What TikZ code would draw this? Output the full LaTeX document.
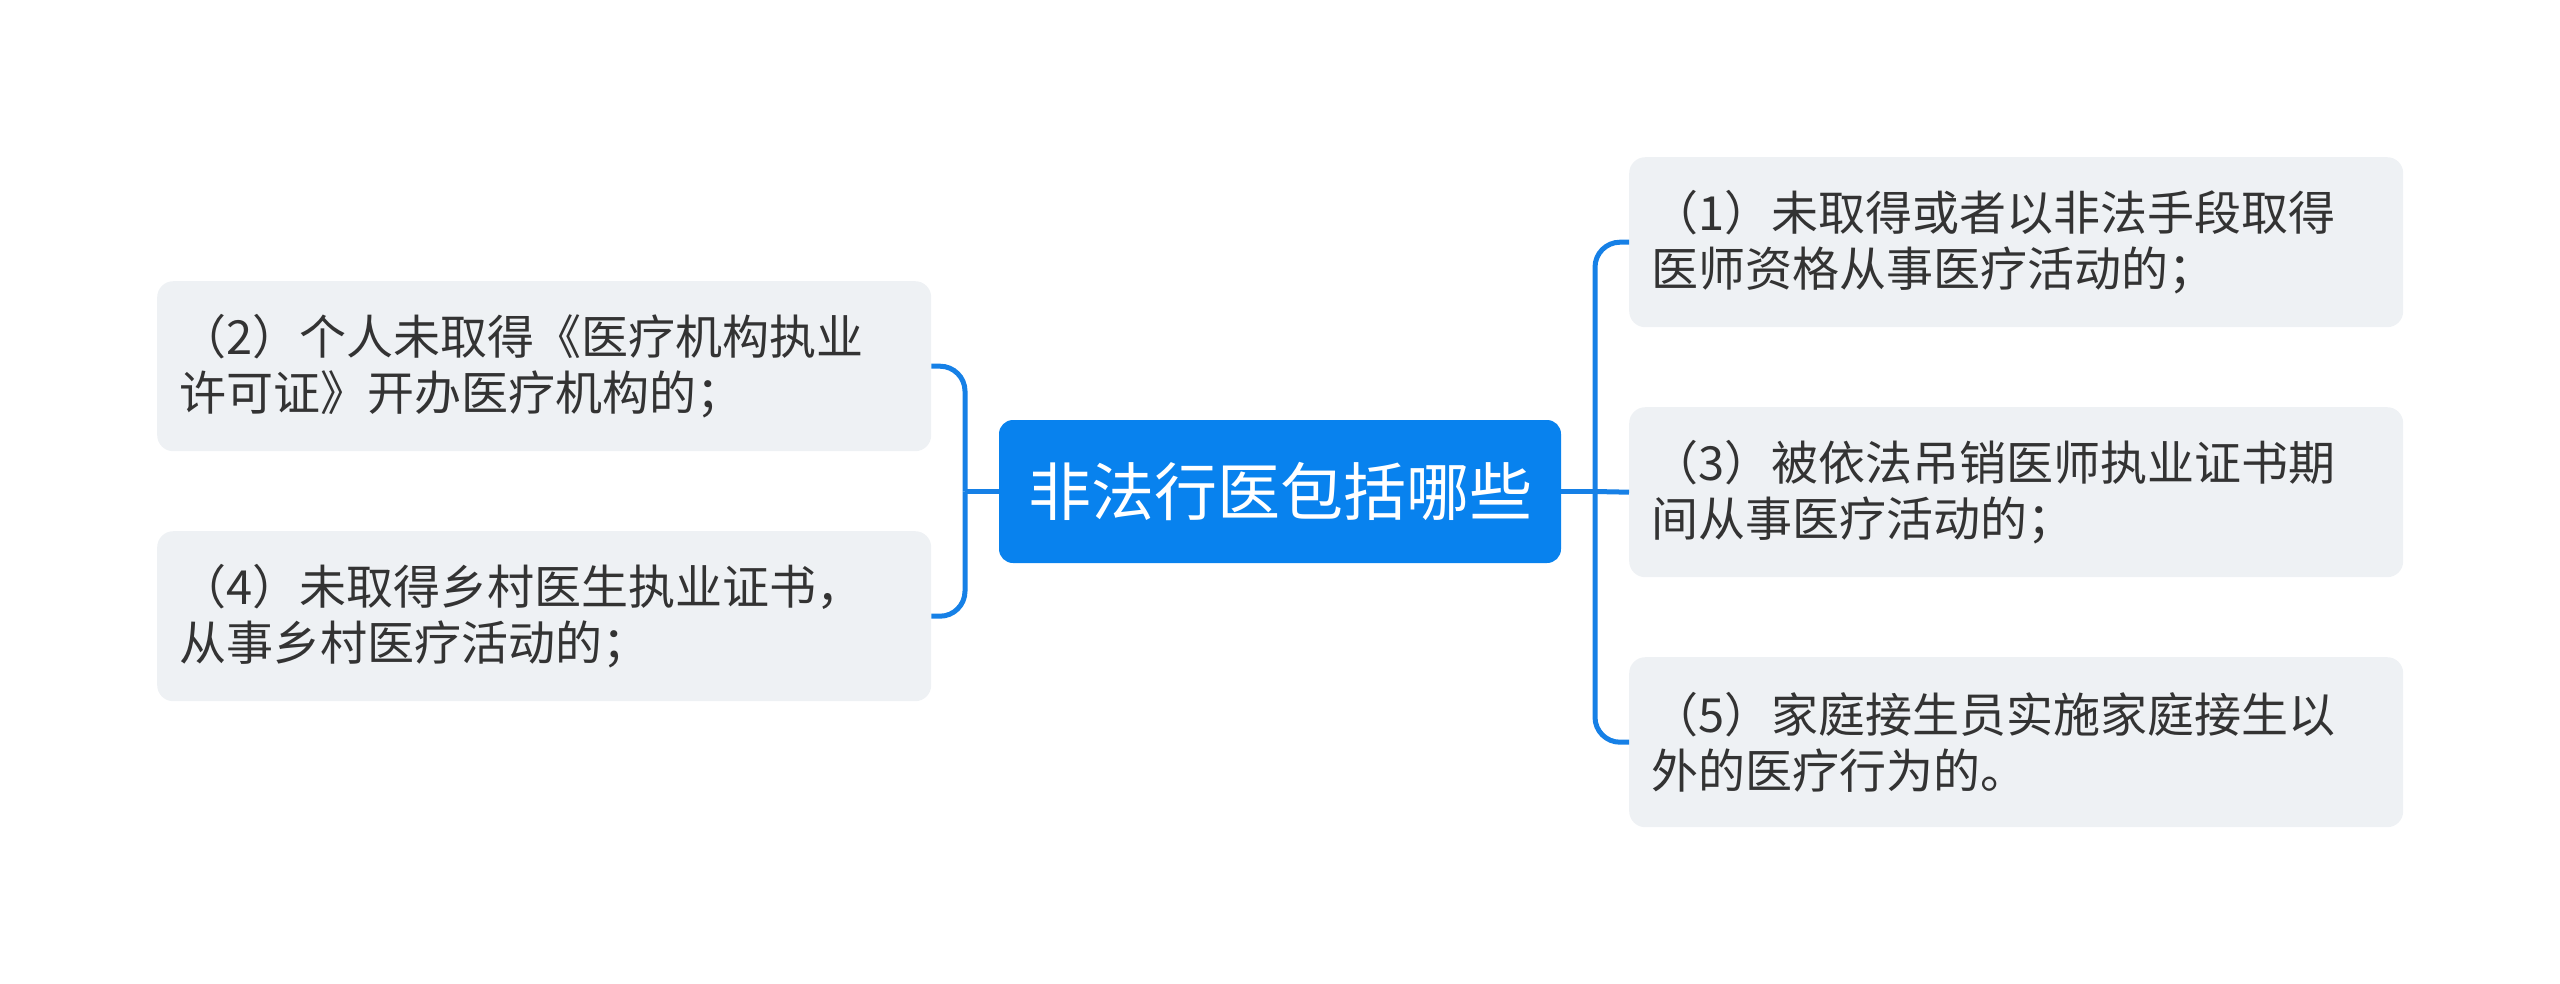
\documentclass[tikz,border=0pt]{standalone}
\usepackage{fontspec}
\newfontfamily\cjk{Noto Sans CJK SC}
\definecolor{mainblue}{RGB}{8,130,238}
\definecolor{linkblue}{RGB}{22,128,230}
\definecolor{boxgray}{RGB}{238,241,244}
\definecolor{txt}{RGB}{51,51,51}
\tikzset{
  leaf/.style={fill=boxgray, rounded corners=16, text width=730, inner xsep=22, inner ysep=0,
    minimum height=170, align=left, text=txt, font=\cjk\fontsize{47}{55.5}\selectfont, anchor=north west},
  root/.style={fill=mainblue, rounded corners=14, minimum width=562, minimum height=143, inner sep=0,
    text=white, font=\cjk\fontsize{63}{70}\selectfont},
  conn/.style={draw=linkblue, line width=5},
}
\begin{document}
\begin{tikzpicture}[x=1pt,y=-1pt]
\useasboundingbox (0,0) rectangle (2560,983);
\node[root] (c) at (1280,491.5) {非法行医包括哪些};
\node[leaf] (n2) at (157,281) {（2）个人未取得《医疗机构执业\\许可证》开办医疗机构的；};
\node[leaf] (n4) at (157,531) {（4）未取得乡村医生执业证书，\\从事乡村医疗活动的；};
\node[leaf] (n1) at (1629,157) {（1）未取得或者以非法手段取得\\医师资格从事医疗活动的；};
\node[leaf] (n3) at (1629,407) {（3）被依法吊销医师执业证书期\\间从事医疗活动的；};
\node[leaf] (n5) at (1629,657) {（5）家庭接生员实施家庭接生以\\外的医疗行为的。};
\coordinate (bl) at (965,491.5);
\coordinate (br) at (1595,491.5);
\draw[conn] (bl) -- (c.west);
\draw[conn, rounded corners=25] (n2.east) -| (bl);
\draw[conn, rounded corners=25] (n4.east) -| (bl);
\draw[conn] (c.east) -- (br);
\draw[conn, rounded corners=25] (n1.west) -| (br);
\draw[conn, rounded corners=25] (n5.west) -| (br);
\draw[conn] (br) -- (n3.west);
\end{tikzpicture}
\end{document}
